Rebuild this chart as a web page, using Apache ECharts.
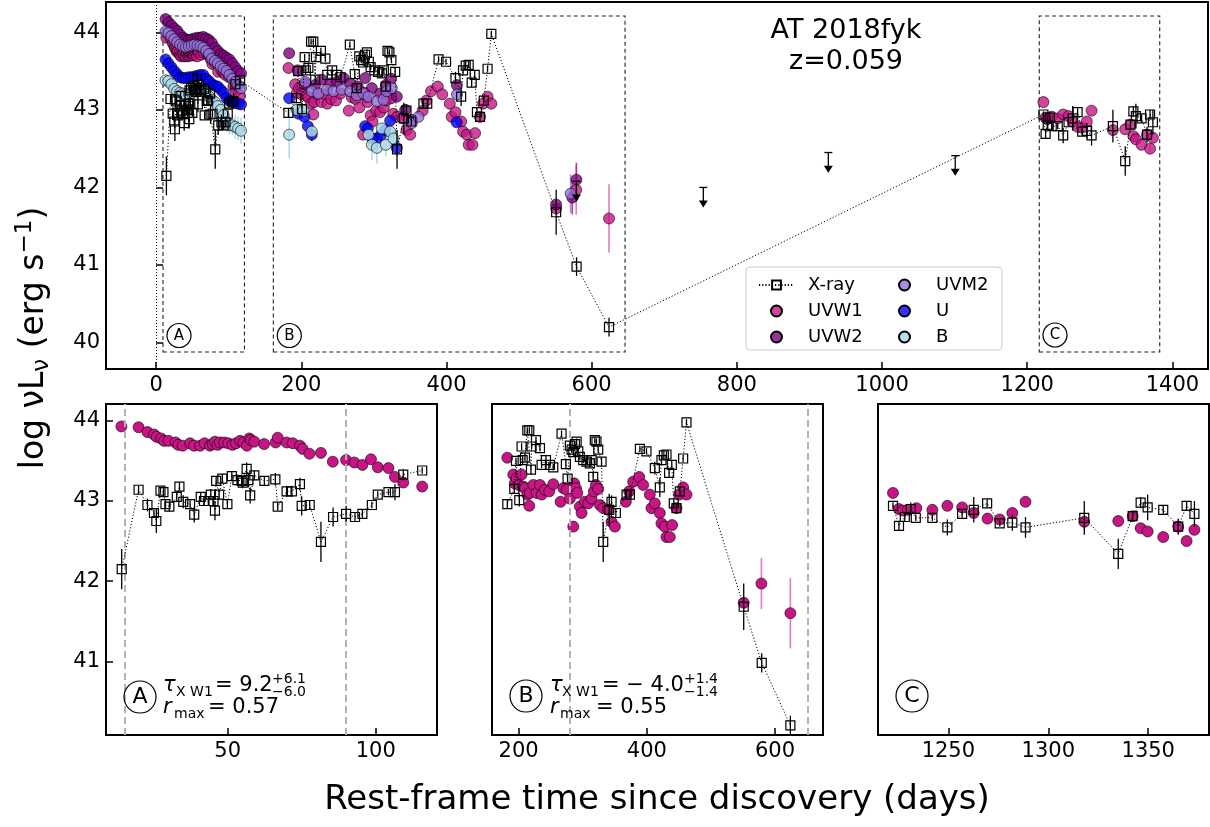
<!DOCTYPE html>
<html>
<head>
<meta charset="utf-8">
<title>AT 2018fyk</title>
<script src="https://cdn.jsdelivr.net/npm/echarts@6.0.0/dist/echarts.min.js"></script>
<style>
html, body { margin: 0; padding: 0; background: #fff; }
#main { width: 1210px; height: 827px; }
</style>
</head>
<body>
<div id="main"></div>
<script>
// X-ray light curve (rest-frame days, log L, 1 sigma), split by epoch
var xrayDaysA = [14.2,19.9,22.9,25.1,25.9,27.3,28.3,29.0,30.3,32.8,33.7,35.0,37.3,38.7,40.9,42.0,43.5,44.3,45.2,45.7,46.1,47.1,48.2,49.9,51.4,53.3,54.7,55.1,56.4,57.0,57.6,59.0,62.4,66.1,66.9,69.9,71.7,74.4,75.0,77.7,81.5,85.6,90.0,93.0,95.5,98.7,100.7,104.3,106.5,109.3,115.7];
var xrayLumA  = [42.15,43.14,42.95,42.85,42.75,43.13,43.11,42.96,42.93,43.05,43.18,42.99,42.96,42.83,43.05,43.00,43.00,43.08,43.00,42.88,43.25,43.08,43.28,42.96,43.31,43.26,43.25,43.23,43.40,43.26,43.07,43.32,43.25,43.27,42.93,43.12,43.12,43.21,42.94,42.95,42.49,42.80,42.84,42.80,42.84,42.95,43.08,43.11,43.11,43.33,43.38];
var xrayErrA  = [0.25,0.05,0.08,0.06,0.15,0.04,0.05,0.05,0.06,0.06,0.05,0.08,0.05,0.10,0.05,0.05,0.06,0.07,0.06,0.12,0.06,0.07,0.06,0.05,0.06,0.07,0.08,0.07,0.08,0.09,0.10,0.06,0.06,0.08,0.05,0.07,0.07,0.08,0.12,0.05,0.25,0.12,0.10,0.06,0.05,0.04,0.04,0.04,0.10,0.07,0.04];
var xrayDaysB = [182.3,193.2,195.8,201.0,204.6,206.2,209.8,213.5,216.6,219.2,220.2,227.0,233.2,235.8,242.6,248.8,254.0,266.9,273.7,276.3,279.9,282.6,285.2,287.8,290.4,293.0,295.5,300.7,305.9,311.1,313.7,316.3,318.8,321.4,324.1,329.3,331.9,341.3,344.9,351.6,368.3,373.5,389.1,399.4,412.4,420.2,422.8,426.5,430.6,434.7,438.9,442.0,446.2,451.4,456.6,461.8,551.1,579.2,623.9];
var xrayLumB  = [42.96,43.15,43.50,43.01,43.68,43.51,43.54,43.88,43.88,43.39,43.68,43.76,43.66,43.45,43.51,43.45,43.42,43.84,43.46,43.28,43.69,43.64,43.61,43.71,43.74,43.62,43.55,43.51,43.49,43.47,43.51,43.30,43.76,43.74,43.64,43.49,42.49,42.89,42.99,42.85,43.08,43.08,43.65,43.62,43.41,43.17,43.51,43.57,43.58,43.35,43.45,42.97,42.91,43.12,43.53,43.98,41.68,40.98,40.20];
var xrayErrB  = [0.06,0.05,0.04,0.08,0.04,0.05,0.05,0.04,0.04,0.06,0.04,0.04,0.04,0.04,0.05,0.04,0.04,0.04,0.05,0.05,0.05,0.04,0.04,0.04,0.04,0.04,0.04,0.04,0.04,0.05,0.04,0.05,0.04,0.04,0.04,0.05,0.25,0.20,0.08,0.05,0.05,0.05,0.04,0.04,0.08,0.12,0.05,0.05,0.04,0.06,0.05,0.05,0.06,0.05,0.04,0.04,0.29,0.12,0.12];
var xrayDaysC = [1222.3,1225.3,1228.2,1231.2,1233.7,1242.0,1249.5,1256.9,1262.7,1269.4,1275.7,1282.0,1288.6,1318.0,1335.0,1342.2,1346.2,1349.7,1357.5,1365.0,1369.2,1373.1];
var xrayLumC  = [42.94,42.69,42.80,42.90,42.79,42.79,42.67,42.84,42.89,42.97,42.72,42.73,42.67,42.79,42.34,42.81,42.98,42.92,42.89,42.68,42.94,42.84];
var xrayErrC  = [0.04,0.06,0.05,0.08,0.04,0.04,0.10,0.05,0.16,0.05,0.04,0.10,0.13,0.21,0.19,0.06,0.07,0.16,0.05,0.10,0.06,0.16];

// X-ray upper limits
var ulDays = [579.0, 753.8, 926.0, 1100.8];
var ulLum  = [42.08, 42.00, 42.45, 42.41];

// UVW1
var uvw1DaysA = [14.1,19.9,22.9,25.1,26.0,27.5,28.5,30.0,32.4,33.3,34.8,37.3,38.6,40.7,42.2,44.0,44.9,45.7,46.6,47.4,48.8,50.2,51.6,52.8,54.2,55.3,56.5,57.3,57.8,59.0,62.3,66.2,66.9,69.9,72.0,74.4,75.3,77.6,81.5,85.5,90.0,92.8,95.5,98.4,100.7,104.3,106.5,109.3,115.7];
var uvw1LumA  = [43.93,43.92,43.86,43.83,43.80,43.78,43.75,43.75,43.73,43.70,43.69,43.72,43.69,43.69,43.72,43.69,43.71,43.74,43.70,43.73,43.73,43.72,43.70,43.72,43.75,43.73,43.69,43.78,43.76,43.74,43.71,43.73,43.79,43.73,43.72,43.69,43.65,43.59,43.60,43.49,43.51,43.48,43.45,43.52,43.42,43.41,43.30,43.23,43.18];
var uvw1DaysB = [182.3,191.6,194.0,196.8,200.5,204.6,207.2,209.8,213.5,216.6,217.6,222.8,228.0,233.2,235.8,241.0,247.7,254.0,265.4,269.6,274.8,279.9,285.2,286.7,289.3,291.4,295.5,298.1,303.3,308.5,313.7,317.3,320.5,324.1,326.7,331.9,339.7,344.9,350.1,367.2,372.4,378.7,388.0,394.2,404.6,407.2,412.4,420.2,422.8,428.0,430.6,435.8,439.4,446.2,450.3,456.6,461.8,551.1,578.7,623.9];
var uvw1LumB  = [43.54,43.33,43.22,43.28,43.20,43.33,43.18,43.16,43.08,42.94,43.10,43.20,43.10,43.20,43.08,43.14,43.12,43.21,42.99,43.16,43.14,43.03,42.68,43.22,43.16,43.10,42.93,42.85,42.99,42.97,43.03,43.12,43.20,43.15,42.95,42.91,42.89,42.74,42.68,42.99,43.12,43.24,43.30,43.20,43.08,42.91,42.97,42.85,42.72,42.68,42.55,42.55,42.70,42.91,43.08,43.17,43.08,41.73,41.97,41.60];
var uvw1DaysC = [1222.3,1225.2,1227.3,1229.8,1234.0,1242.0,1249.5,1256.9,1262.7,1269.6,1275.7,1282.0,1288.6,1318.0,1335.0,1342.2,1346.2,1349.7,1357.5,1365.0,1369.2,1373.1];
var uvw1LumC  = [43.10,42.90,42.88,42.89,42.91,42.89,42.94,42.92,42.85,42.78,42.77,42.85,42.99,42.74,42.75,42.81,42.66,42.62,42.55,42.68,42.50,42.64];
// UVW1 points with visible error bars
var uvw1BarDays = [551.1, 578.7, 623.9, 1342.2, 1346.2, 1369.2];
var uvw1BarLum  = [41.73, 41.97, 41.60, 42.81, 42.66, 42.50];
var uvw1BarErr  = [0.06, 0.32, 0.44, 0.04, 0.05, 0.05];

// other UVOT filters (top panel only); epoch A sampled on the same days
var uvEpochsA = [13,17,21,25,29,33,37,41,45,49,53,57,61,65,69,73,77,81,85,89,93,97,101,105,109,113,117];
var uvw2LumA = [44.17,44.13,44.09,44.05,44.02,43.97,43.93,43.91,43.90,43.91,43.92,43.93,43.93,43.94,43.92,43.90,43.86,43.80,43.76,43.72,43.70,43.67,43.65,43.60,43.55,43.50,43.47];
var uvw2DaysB = [183.3,194.8,206.2,219.1,228.3,239.8,249.0,258.1,267.3,277.9,288.0,297.2,308.7,316.5,323.8,331.6,343.1,352.3,414.3,551.0,573.4,579.0];
var uvw2LumB  = [43.73,43.51,43.34,43.32,43.39,43.34,43.36,43.41,43.34,43.30,43.41,43.28,43.21,43.32,43.40,43.17,43.00,42.87,43.32,41.78,41.87,42.10];
var uvw2BarDays = [573.4, 579.0];
var uvw2BarLum  = [41.87, 42.10];
var uvw2BarErr  = [0.22, 0.22];

var uvm2LumA = [44.01,43.99,43.95,43.91,43.87,43.84,43.82,43.81,43.82,43.83,43.84,43.83,43.82,43.80,43.76,43.72,43.66,43.63,43.60,43.56,43.53,43.50,43.45,43.40,43.36,43.32,43.28];
var uvm2DaysB = [205.3,214.5,223.7,235.2,244.4,255.8,267.3,276.5,285.7,292.6,304.1,313.3,317.8,324.7,352.3,361.5,414.5,571.0];
var uvm2LumB  = [43.36,43.24,43.21,43.26,43.24,43.26,43.24,43.19,43.21,43.17,43.11,43.13,43.24,43.28,42.83,42.91,43.20,41.92];
var uvm2BarDays = [571.0];
var uvm2BarLum  = [41.92];
var uvm2BarErr  = [0.25];

var uLumA = [43.65,43.60,43.55,43.50,43.46,43.42,43.41,43.41,43.42,43.42,43.43,43.44,43.45,43.45,43.40,43.37,43.33,43.31,43.30,43.26,43.22,43.15,43.12,43.10,43.09,43.08,43.07];
var uDaysB = [183.3,196.1,204.4,209.0,214.5,288.0,291.7,298.1,304.1,310.0,315.5,322.4,331.6,414.0];
var uLumB  = [43.15,42.95,42.91,42.79,42.68,42.79,42.76,42.63,42.63,42.68,42.74,42.86,42.51,42.84];
var uBarDays = [101, 113, 214.5, 298.1, 304.1, 331.6];
var uBarLum  = [43.12, 43.08, 42.68, 42.63, 42.63, 42.51];
var uBarErr  = [0.05, 0.06, 0.08, 0.06, 0.07, 0.10];

var bLumA = [43.38,43.37,43.33,43.27,43.24,43.22,43.21,43.20,43.21,43.22,43.24,43.27,43.28,43.24,43.21,43.17,43.13,43.10,43.05,43.00,42.93,42.84,42.80,42.80,42.78,42.76,42.73];
var bDaysB = [183.3,193.8,203.0,214.5,292.6,297.2,304.1,310.9,316.5,322.4,327.0];
var bLumB  = [42.68,43.00,42.99,42.72,42.68,42.55,42.51,42.76,42.55,42.72,42.63];
var bBarDays = [93,97,101,105,109,113,117,183.3,193.8,203.0,214.5,292.6,297.2,304.1,316.5,322.4,327.0];
var bBarLum  = [42.93,42.84,42.80,42.80,42.78,42.76,42.73,42.68,43.00,42.99,42.72,42.68,42.55,42.51,42.55,42.72,42.63];
var bBarErr  = [0.08,0.12,0.12,0.12,0.15,0.15,0.17,0.30,0.08,0.08,0.12,0.15,0.20,0.20,0.15,0.15,0.15];

// dashed boxes in the top panel, and cross-correlation windows below
var boxA = [9.5, 121.7], boxB = [161.5, 646.0], boxC = [1216.6, 1382.5];
var boxLum = [39.88, 44.21];
var windowA = [15.3, 90.0], windowB = [280.0, 651.4];

// tick values
var topXTicks = [0, 200, 400, 600, 800, 1000, 1200, 1400];
var topYTicks = [40, 41, 42, 43, 44];
var lowYTicks = [41, 42, 43, 44];
var aXTicks = [50, 100];
var bXTicks = [200, 400, 600];
var cXTicks = [1250, 1300, 1350];

var FONT = 'DejaVu Sans';
var ARROW_LEN = 0.26;

function pts(days, lum, err) {
  var n = Math.min(days.length, lum.length);
  var out = [];
  for (var i = 0; i < n; i++) out.push(err ? [days[i], lum[i], err[i]] : [days[i], lum[i]]);
  return out;
}

var xrayA = pts(xrayDaysA, xrayLumA, xrayErrA);
var xrayB = pts(xrayDaysB, xrayLumB, xrayErrB);
var xrayC = pts(xrayDaysC, xrayLumC, xrayErrC);
var xray = xrayA.concat(xrayB, xrayC);
var uvw1A = pts(uvw1DaysA, uvw1LumA);
var uvw1B = pts(uvw1DaysB, uvw1LumB);
var uvw1C = pts(uvw1DaysC, uvw1LumC);
var uvw1 = uvw1A.concat(uvw1B, uvw1C);
var uvw2 = pts(uvEpochsA.concat(uvw2DaysB), uvw2LumA.concat(uvw2LumB));
var uvm2 = pts(uvEpochsA.concat(uvm2DaysB), uvm2LumA.concat(uvm2LumB));
var uband = pts(uvEpochsA.concat(uDaysB), uLumA.concat(uLumB));
var bband = pts(uvEpochsA.concat(bDaysB), bLumA.concat(bLumB));
var upper = pts(ulDays, ulLum);

var fmt = function (v) { return String(v); };

function xAx(idx, min, max, ticks) {
  return {
    type: 'value', gridIndex: idx, min: min, max: max,
    axisLine: { show: false }, splitLine: { show: false },
    axisTick: { show: true, inside: true, length: 7, customValues: ticks, lineStyle: { color: '#000', width: 1.5 } },
    axisLabel: { show: true, customValues: ticks, margin: 6, fontSize: 21, color: '#000', fontFamily: FONT, formatter: fmt }
  };
}
function yAx(idx, min, max, ticks) {
  var a = xAx(idx, min, max, ticks || []);
  if (!ticks) { a.axisTick.show = false; a.axisLabel.show = false; }
  return a;
}

function scatter(name, data, color, idx, z, extra) {
  var s = {
    type: 'scatter', name: name, xAxisIndex: idx, yAxisIndex: idx, data: data,
    symbol: 'circle', symbolSize: 11, clip: true, silent: true, z: z,
    itemStyle: { color: color, opacity: 1, borderColor: '#000', borderWidth: 0.6 }
  };
  return Object.assign(s, extra || {});
}

function bars(name, data, color, width, idx, z) {
  return {
    type: 'custom', name: name, xAxisIndex: idx, yAxisIndex: idx, data: data,
    clip: true, silent: true, z: z, encode: { x: 0, y: 1 },
    renderItem: function (params, api) {
      var x = api.value(0), y = api.value(1), e = api.value(2);
      var lo = api.coord([x, y - e]), hi = api.coord([x, y + e]);
      return { type: 'line', shape: { x1: lo[0], y1: lo[1], x2: hi[0], y2: hi[1] }, style: { stroke: color, lineWidth: width } };
    }
  };
}

function xrayLine(idx, data) {
  return {
    type: 'line', name: 'X-ray', xAxisIndex: idx, yAxisIndex: idx, data: data,
    symbol: 'rect', symbolSize: 9, showSymbol: true, showAllSymbol: true, clip: true, silent: true, z: 6,
    lineStyle: { color: '#000', width: 1, type: [1.2, 2] },
    itemStyle: { color: 'rgba(255,255,255,0)', borderColor: '#000', borderWidth: 1.2 },
    emphasis: { disabled: true }
  };
}

var W1_TOP = 'rgba(199,21,133,0.8)';
var W1_LOW = '#c71585';

var series = [
  // top panel
  bars('B err', pts(bBarDays, bBarLum, bBarErr), 'rgba(173,216,230,0.95)', 1.6, 0, 2),
  bars('U err', pts(uBarDays, uBarLum, uBarErr), 'rgba(0,0,255,0.6)', 1.6, 0, 2),
  bars('UVM2 err', pts(uvm2BarDays, uvm2BarLum, uvm2BarErr), 'rgba(147,112,219,0.8)', 1.6, 0, 2),
  bars('UVW2 err', pts(uvw2BarDays, uvw2BarLum, uvw2BarErr), 'rgba(128,0,128,0.7)', 1.6, 0, 2),
  bars('UVW1 err', pts(uvw1BarDays, uvw1BarLum, uvw1BarErr), 'rgba(199,21,133,0.55)', 1.6, 0, 2),
  scatter('UVW1', uvw1, W1_TOP, 0, 3, {
    markArea: {
      silent: true, label: { show: false },
      itemStyle: { color: 'rgba(0,0,0,0)', borderColor: '#222', borderWidth: 1.1, borderType: [4, 3] },
      data: [
        [{ xAxis: boxA[0], yAxis: boxLum[0] }, { xAxis: boxA[1], yAxis: boxLum[1] }],
        [{ xAxis: boxB[0], yAxis: boxLum[0] }, { xAxis: boxB[1], yAxis: boxLum[1] }],
        [{ xAxis: boxC[0], yAxis: boxLum[0] }, { xAxis: boxC[1], yAxis: boxLum[1] }]
      ]
    },
    markLine: {
      silent: true, symbol: ['none', 'none'], label: { show: false },
      lineStyle: { color: '#000', width: 1, type: [1, 2] },
      data: [{ xAxis: 0 }]
    }
  }),
  scatter('UVW2', uvw2, 'rgba(128,0,128,0.8)', 0, 3),
  scatter('UVM2', uvm2, 'rgba(147,112,219,0.8)', 0, 3),
  scatter('U', uband, 'rgba(0,0,255,0.8)', 0, 3),
  scatter('B', bband, 'rgba(173,216,230,0.85)', 0, 3),
  bars('X-ray err', xray, '#000', 1.3, 0, 5),
  xrayLine(0, xray),
  {
    type: 'custom', name: 'limits', xAxisIndex: 0, yAxisIndex: 0, data: upper,
    silent: true, z: 6, encode: { x: 0, y: 1 },
    renderItem: function (params, api) {
      var top = api.coord([api.value(0), api.value(1)]);
      var tip = api.coord([api.value(0), api.value(1) - ARROW_LEN]);
      return {
        type: 'group', children: [
          { type: 'line', shape: { x1: top[0] - 4, y1: top[1], x2: top[0] + 4, y2: top[1] }, style: { stroke: '#000', lineWidth: 1.3 } },
          { type: 'line', shape: { x1: top[0], y1: top[1], x2: tip[0], y2: tip[1] - 6 }, style: { stroke: '#000', lineWidth: 1.3 } },
          { type: 'polygon', shape: { points: [[tip[0] - 4.5, tip[1] - 7], [tip[0] + 4.5, tip[1] - 7], [tip[0], tip[1]]] }, style: { fill: '#000' } }
        ]
      };
    }
  }
];

// bottom panels: X-ray + UVW1 only, each with its own epoch
var panels = [
  { idx: 1, xr: xrayA, w1: uvw1A, win: windowA },
  { idx: 2, xr: xrayB, w1: uvw1B, win: windowB },
  { idx: 3, xr: xrayC, w1: uvw1C, win: null }
];
panels.forEach(function (p) {
  var extra = {};
  if (p.win) {
    extra.markLine = {
      silent: true, symbol: ['none', 'none'], label: { show: false },
      lineStyle: { color: '#b3b3b3', width: 2, type: [7, 4] },
      data: [{ xAxis: p.win[0] }, { xAxis: p.win[1] }]
    };
  }
  series.push(bars('UVW1 err', pts(uvw1BarDays, uvw1BarLum, uvw1BarErr), 'rgba(199,21,133,0.55)', 1.6, p.idx, 2));
  series.push(scatter('UVW1', p.w1, W1_LOW, p.idx, 3, extra));
  series.push(bars('X-ray err', p.xr, '#000', 1.3, p.idx, 5));
  series.push(xrayLine(p.idx, p.xr));
});

function text(x, y, s, size, opts) {
  return {
    type: 'text', z: 100, silent: true,
    style: Object.assign({ x: x, y: y, text: s, fontSize: size, fontFamily: FONT, fill: '#000', align: 'left', verticalAlign: 'middle' }, opts || {})
  };
}
function circ(cx, cy, r) {
  return { type: 'circle', z: 99, silent: true, shape: { cx: cx, cy: cy, r: r }, style: { fill: 'rgba(255,255,255,0)', stroke: '#000', lineWidth: 1.2 } };
}

var graphics = [
  { type: 'rect', z: 3, silent: true, shape: { x: 746, y: 267, width: 256, height: 83, r: 4 }, style: { fill: 'rgba(255,255,255,0.85)', stroke: '#cccccc', lineWidth: 1 } },
  text(846, 31, 'AT 2018fyk', 27, { align: 'center' }),
  text(846, 62, 'z=0.059', 27, { align: 'center' }),
  circ(179, 335.5, 12), text(179, 336, 'A', 15, { align: 'center' }),
  circ(289.3, 335.5, 12), text(289.3, 336, 'B', 15, { align: 'center' }),
  circ(1055, 335, 12), text(1055, 335.5, 'C', 15, { align: 'center' }),
  // panel A
  circ(140, 697, 16), text(140, 697.5, 'A', 22, { align: 'center' }),
  text(163, 686, 'τ', 21, { fontStyle: 'italic' }),
  text(176, 692, 'X W1', 14),
  text(215, 686, '= 9.2', 21),
  text(272, 679, '+6.1', 14),
  text(272, 692, '−6.0', 14),
  text(163, 708, 'r', 21, { fontStyle: 'italic' }),
  text(174, 714, 'max', 14),
  text(208, 708, '= 0.57', 21),
  // panel B
  circ(526, 696, 16), text(526, 696.5, 'B', 22, { align: 'center' }),
  text(550, 686, 'τ', 21, { fontStyle: 'italic' }),
  text(562, 692, 'X W1', 14),
  text(602, 686, '= − 4.0', 21),
  text(684, 679, '+1.4', 14),
  text(684, 692, '−1.4', 14),
  text(550, 708, 'r', 21, { fontStyle: 'italic' }),
  text(560, 714, 'max', 14),
  text(596, 708, '= 0.55', 21),
  // panel C
  circ(912, 696, 16), text(912, 696.5, 'C', 22, { align: 'center' }),
  // axis titles
  text(657, 800, 'Rest-frame time since discovery (days)', 34, { align: 'center' }),
  {
    type: 'text', z: 100, silent: true, x: 34, y: 338, rotation: Math.PI / 2,
    style: {
      x: 0, y: 0, align: 'center', verticalAlign: 'middle',
      text: '{a|log νL}{b|ν}{a| (erg s}{c|−1}{a|)}',
      rich: {
        a: { fontSize: 33, fontFamily: FONT, fill: '#000', lineHeight: 40 },
        b: { fontSize: 23, fontFamily: FONT, fill: '#000', lineHeight: 23, verticalAlign: 'bottom' },
        c: { fontSize: 23, fontFamily: FONT, fill: '#000', lineHeight: 23, verticalAlign: 'top' }
      }
    }
  }
];

function grid(left, top, width, height) {
  return { left: left, top: top, width: width, height: height, show: true, borderColor: '#000', borderWidth: 2, backgroundColor: 'rgba(0,0,0,0)', containLabel: false, outerBoundsMode: 'none' };
}

var legendText = { fontSize: 18, fontFamily: FONT, color: '#000', lineHeight: 22, padding: [0, 0, 0, 9] };

var option = {
  animation: false,
  backgroundColor: '#fff',
  textStyle: { fontFamily: FONT },
  grid: [grid(106, 2, 1102, 367), grid(106, 404, 331, 331), grid(492, 404, 331, 331), grid(878, 404, 331, 331)],
  xAxis: [
    xAx(0, -69, 1449, topXTicks),
    xAx(1, 8.9, 120.7, aXTicks),
    xAx(2, 158.4, 674.8, bXTicks),
    xAx(3, 1214.8, 1380.4, cXTicks)
  ],
  yAxis: [
    yAx(0, 39.66, 44.39, topYTicks),
    yAx(1, 40.08, 44.21, lowYTicks),
    yAx(2, 40.08, 44.21),
    yAx(3, 40.08, 44.21)
  ],
  legend: [
    { data: ['X-ray', 'UVW1', 'UVW2'], orient: 'vertical', left: 753, top: 269, itemWidth: 35, itemHeight: 11, itemGap: 4, selectedMode: false, z: 10, textStyle: legendText },
    { data: ['UVM2', 'U', 'B'], orient: 'vertical', left: 893, top: 269, itemWidth: 35, itemHeight: 11, itemGap: 4, selectedMode: false, z: 10, textStyle: legendText }
  ],
  graphic: graphics,
  series: series
};

var chart = echarts.init(document.getElementById('main'), null, { renderer: 'canvas' });
chart.setOption(option);
</script>
</body>
</html>
